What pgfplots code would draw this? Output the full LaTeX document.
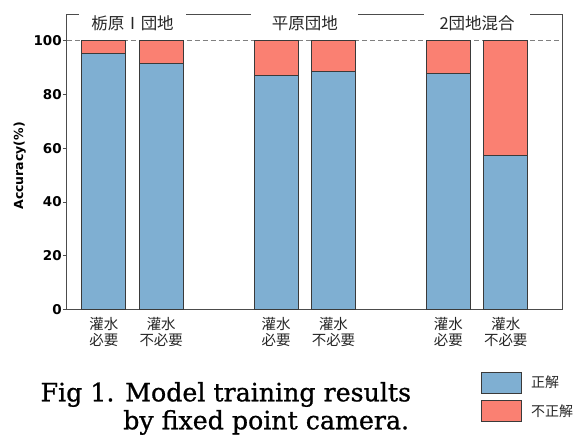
\documentclass[border=0pt]{standalone}
\usepackage{fontspec}
\setmainfont{DejaVu Sans}
\newfontfamily\cjk{Noto Sans CJK JP}
\newfontfamily\capfont[FakeBold=0.9]{DejaVu Serif}
\usepackage{pgfplots}
\pgfplotsset{compat=1.18}
\definecolor{cblue}{HTML}{7FAFD2}
\definecolor{cred}{HTML}{FA8072}
\definecolor{edge}{HTML}{3A3A3A}
\begin{document}
\begin{tikzpicture}
\path (0,0) rectangle (573pt,-439pt);
\begin{axis}[
 set layers,
 at={(67pt,-310pt)}, anchor=south west,
 scale only axis, width=496pt, height=296pt,
 xmin=-0.643, xmax=7.98, ymin=0, ymax=110,
 ybar stacked, bar width=44pt,
 axis line style={draw=black!70, line width=0.8pt},
 xtick={0,1,3,4,6,7},
 xticklabels={{灌水\\必要},{灌水\\不必要},{灌水\\必要},{灌水\\不必要},{灌水\\必要},{灌水\\不必要}},
 xticklabel style={align=center, font=\cjk\fontsize{14.5}{16.5}\selectfont, text=black!85},
 xtick style={draw=none},
 ytick={0,20,40,60,80,100}, ytick pos=left,
 tick align=outside, major tick length=4pt,
 ytick style={draw=black!70, line width=0.8pt},
 yticklabel style={font=\bfseries\fontsize{13.5}{16}\selectfont, inner xsep=1pt},
 /pgf/number format/assume math mode=true,
 extra y ticks={100}, extra y tick labels={},
 extra y tick style={grid=major, major grid style={dash pattern=on 5pt off 3pt, black!50, line width=0.8pt}, major tick length=0pt},
 ylabel={Accuracy(\%)},
 ylabel style={font=\bfseries\fontsize{12.5}{14}\selectfont, at={(axis description cs:-0.095,0.486)}, anchor=center},
 legend style={at={(axis description cs:0.8367,-0.2095)}, anchor=north west, draw=none, fill=none,
   inner sep=0pt, row sep=7pt, column sep=9pt, nodes={inner sep=0pt},
   font=\cjk\fontsize{14}{16}\selectfont, text=black!85, cells={anchor=west}},
 legend image code/.code={\draw[#1] (0pt,-10.5pt) rectangle (40pt,10.5pt);},
]
\addplot[fill=cblue, draw=edge, line width=0.8pt] coordinates {(0,95.4) (1,91.6) (3,87.0) (4,88.7) (6,88.0) (7,57.25)};
\addplot[fill=cred, draw=edge, line width=0.8pt] coordinates {(0,4.6) (1,8.4) (3,13.0) (4,11.3) (6,12.0) (7,42.75)};
\legend{正解, 不正解}
\node[fill=white, minimum width=107pt, inner ysep=3pt, font=\cjk\fontsize{16.5}{18}\selectfont, text=black!85] at (axis cs:0.5,106.5) {栃原Ⅰ団地};
\node[fill=white, minimum width=107pt, inner ysep=3pt, font=\cjk\fontsize{16.5}{18}\selectfont, text=black!85] at (axis cs:3.5,106.5) {平原団地};
\node[fill=white, minimum width=107pt, inner ysep=3pt, font=\cjk\fontsize{16.5}{18}\selectfont, text=black!85] at (axis cs:6.5,106.5) {2団地混合};
\end{axis}
\node[anchor=base east, font=\capfont\fontsize{25.3}{30}\selectfont, inner sep=0pt] at (412pt,-402pt) {Fig 1. Model training results};
\node[anchor=base east, font=\capfont\fontsize{25.3}{30}\selectfont, inner sep=0pt] at (410pt,-430pt) {by fixed point camera.};
\end{tikzpicture}
\end{document}
